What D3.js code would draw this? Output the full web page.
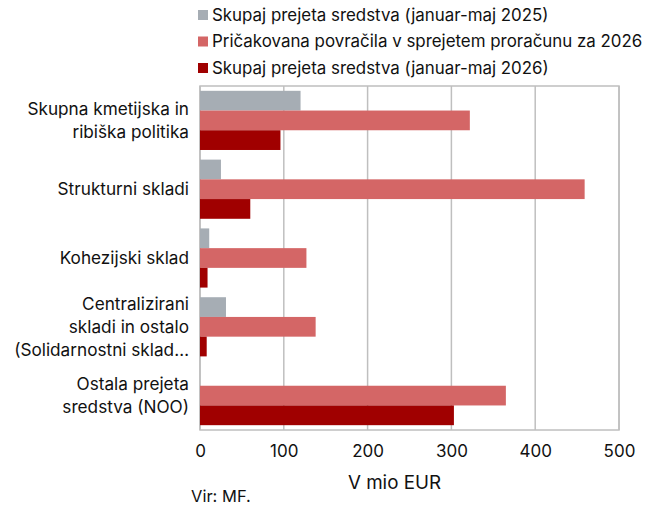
<!DOCTYPE html>
<html>
<head>
<meta charset="utf-8">
<script src="https://cdn.jsdelivr.net/npm/d3@7"></script>
<style>
  body { margin: 0; background: #fff; }
  text { font-family: Inter, "Noto Sans", sans-serif; fill: #111; }
</style>
</head>
<body>
<div id="chart"></div>
<script>
// data (mio EUR)
const categories = [
  ['Skupna kmetijska in', 'ribiška politika'],
  ['Strukturni skladi'],
  ['Kohezijski sklad'],
  ['Centralizirani', 'skladi in ostalo', '(Solidarnostni sklad…'],
  ['Ostala prejeta', 'sredstva (NOO)']
];
const seriesNames = [
  'Skupaj prejeta sredstva (januar-maj 2025)',
  'Pričakovana povračila v sprejetem proračunu za 2026',
  'Skupaj prejeta sredstva (januar-maj 2026)'
];
const received2025 = [120, 25, 11, 31, 0];
const expected2026 = [322, 459, 127, 138, 365];
const received2026 = [96, 60, 9, 8, 303];
const xTicks = [0, 100, 200, 300, 400, 500];
const colors = ['#a6adb4', '#d46666', '#a00000'];

const width = 650, height = 505;
const margin = {top: 86, right: 31, bottom: 75, left: 200};
const innerW = width - margin.left - margin.right;
const innerH = height - margin.top - margin.bottom;

const svg = d3.select('#chart').append('svg')
    .attr('width', width)
    .attr('height', height);

// legend
const legend = svg.append('g');
seriesNames.forEach((name, i) => {
    let row = legend.append('g').attr('transform', 'translate(198,' + (15 + i * 26.5) + ')');
    row.append('rect')
        .attr('x', 0).attr('y', -5)
        .attr('width', 10).attr('height', 10)
        .style('fill', colors[i]);
    row.append('text')
        .attr('x', 14).attr('y', 0)
        .attr('dy', '0.35em')
        .attr('font-size', '16.9px')
        .text(name);
});

const g = svg.append('g').attr('transform', 'translate(' + margin.left + ',' + margin.top + ')');

const x = d3.scaleLinear().domain([0, 500]).range([0, innerW]);
const y = d3.scaleBand()
    .domain(d3.range(categories.length))
    .range([0, innerH])
    .paddingInner(0.14)
    .paddingOuter(0.07);
const ySub = d3.scaleBand()
    .domain([0, 1, 2])
    .range([0, y.bandwidth()]);

// gridlines and frame
g.append('g')
    .selectAll('line')
    .data(xTicks)
    .enter()
    .append('line')
    .attr('x1', d => x(d)).attr('x2', d => x(d))
    .attr('y1', 0).attr('y2', innerH)
    .style('stroke', '#bfbfbf')
    .style('stroke-width', 1.5);
g.append('rect')
    .attr('width', innerW).attr('height', innerH)
    .style('fill', 'none')
    .style('stroke', '#bfbfbf')
    .style('stroke-width', 1.5);

// bars
const series = [received2025, expected2026, received2026];
series.forEach((values, s) => {
    g.append('g')
        .selectAll('rect')
        .data(values)
        .enter()
        .append('rect')
        .attr('x', x(0))
        .attr('y', (d, i) => y(i) + ySub(s))
        .attr('width', d => x(d) - x(0))
        .attr('height', ySub.bandwidth())
        .style('fill', colors[s]);
});

// x axis
const xAxis = g.append('g')
    .attr('transform', 'translate(0,' + innerH + ')')
    .call(d3.axisBottom(x).tickValues(xTicks).tickSize(0).tickPadding(15));
xAxis.select('.domain').remove();
xAxis.selectAll('text')
    .attr('font-size', '17px')
    .attr('font-family', 'Inter, "Noto Sans", sans-serif')
    .style('fill', '#111');

// category labels
const lineH = 23;
categories.forEach((lines, i) => {
    let cy = y(i) + y.bandwidth() / 2;
    let t = g.append('text')
        .attr('text-anchor', 'end')
        .attr('font-size', '17.2px');
    lines.forEach((ln, j) => {
        t.append('tspan')
            .attr('x', -11)
            .attr('y', cy + (j - (lines.length - 1) / 2) * lineH)
            .attr('dy', '0.35em')
            .text(ln);
    });
});

// axis title
svg.append('text')
    .attr('x', margin.left + innerW / 2 - 15)
    .attr('y', 482)
    .attr('dy', '0.35em')
    .attr('text-anchor', 'middle')
    .attr('font-size', '18.8px')
    .text('V mio EUR');

svg.append('text')
    .attr('x', 191)
    .attr('y', 496)
    .attr('dy', '0.35em')
    .attr('font-size', '16.5px')
    .text('Vir: MF.');
</script>
</body>
</html>
